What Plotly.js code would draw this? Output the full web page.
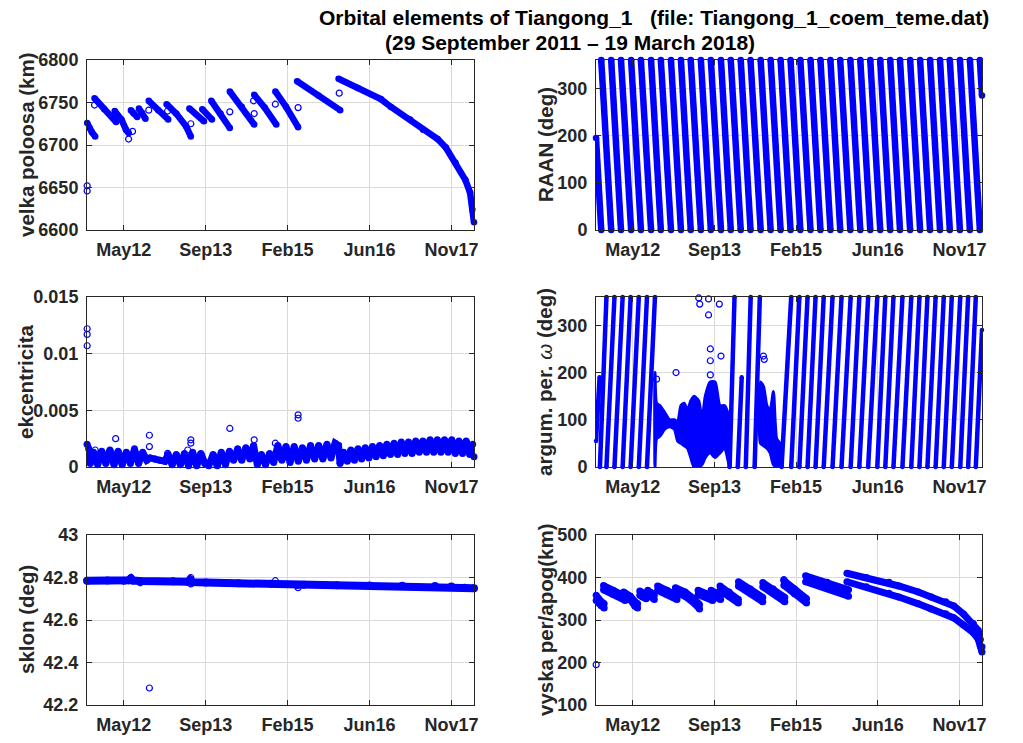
<!DOCTYPE html>
<html><head><meta charset="utf-8">
<script src="https://cdn.plot.ly/plotly-3.0.1.min.js"></script>
<style>html,body{margin:0;padding:0;background:#fff}</style>
</head><body>
<div id="chart" style="width:1023px;height:743px"></div>
<script>
// ---------- time axis (MATLAB datenum days) ----------
const tStart = 734775;   // 29 Sep 2011
const tEnd = 737138;     // 19 Mar 2018
const tickDates = [735000, 735500, 736000, 736500, 737000];
const tickLabels = ['May12', 'Sep13', 'Feb15', 'Jun16', 'Nov17'];

// ---------- semi-major axis (km) ----------
const smaT = [
 734776,734790,734805,734825,null,
 734821,734880,734953,null,
 734944,734985,735013,735030,null,
 735043,735060,735082,null,
 735092,735110,735132,null,
 735152,735210,735271,null,
 735261,735320,735380,735409,null,
 735400,735489,null,
 735479,735538,null,
 735534,735590,735647,null,
 735647,735720,735796,null,
 735796,735860,735931,null,
 735925,735990,736064,null,
 736058,736190,736321,null,
 736311,736430,736569,736629,736748,736827,736916,736966,737025,737085,737114,737128,737138];
const smaV = [
 6726,6720,6715,6710,null,
 6755,6742,6727,null,
 6740,6730,6718,6714,null,
 6741,6737,6733,null,
 6743,6738,6731,null,
 6752,6741,6730,null,
 6748,6737,6722,6710,null,
 6743,6728,null,
 6742,6730,null,
 6752,6737,6720,null,
 6763,6745,6724,null,
 6759,6744,6724,null,
 6763,6745,6721,null,
 6775,6758,6741,null,
 6778,6767,6754,6745,6730,6718,6707,6697,6679,6659,6644,6624,6609];
const smaOutT = [734776,734776,734821,735029,735053,735152,735267,735409,735647,735792,735796,735925,736064,736315];
const smaOutV = [6652,6646,6747,6707,6716,6741,6740,6725,6739,6752,6737,6748,6744,6761];

// ---------- RAAN (deg): dates where RAAN wraps 0 -> 360 ----------
const raanFirstV = 195;
const raanLastV = 285;
const raanWrapT = [734807,734868,734928,734990,735050,735112,735172,735234,735295,735355,
 735417,735478,735540,735600,735661,735721,735783,735844,735905,735966,
 736026,736088,736149,736210,736270,736332,736393,736454,736515,736576,
 736636,736698,736759,736820,736881,736941,737003,737064,737125];

// ---------- eccentricity ----------
const eccT = [734775,734785,734795,734815,734840,734865,734890,734915,734940,734965,734990,735015,735040,735065,735090,735115,735140,735160,735190,735220,735250,735270,735295,735320,735345,735370,735395,735420,735445,735470,735495,735518,735545,735570,735595,735620,735645,735670,735695,735720,735745,735770,735792,735815,735840,735865,735890,735915,735940,735965,735990,736015,736040,736065,736090,736115,736140,736165,736190,736215,736240,736265,736290,736311,
 736320,736342,736364,736386,736408,736430,736452,736474,736496,736518,736540,736562,736584,736606,736628,736650,736672,736694,736716,736738,736760,736782,736804,736826,736848,736870,736892,736914,736936,736958,736980,737002,737024,737046,737068,737090,737112,737130,737138];
const eccV = [0.0020,0.0016,0.0003,0.0013,0.0002,0.0014,0.0003,0.0015,0.0002,0.0014,0.0002,0.0013,0.0003,0.0016,0.0003,0.0013,0.0006,0.0008,0.0007,0.0006,0.0005,0.0011,0.0002,0.0011,0.0002,0.0012,0.0001,0.0013,0.0001,0.0012,0.0003,0.0001,0.0011,0.0001,0.0013,0.0002,0.0014,0.0006,0.0016,0.0006,0.0017,0.0007,0.0019,0.0002,0.0011,0.0002,0.0012,0.0004,0.0019,0.0006,0.0018,0.0004,0.0018,0.0005,0.0017,0.0006,0.0019,0.0007,0.0019,0.0007,0.0020,0.0008,0.0021,0.0019,
 0.0003,0.0013,0.0005,0.0015,0.0006,0.0016,0.0007,0.0017,0.0008,0.0018,0.0009,0.0019,0.0010,0.0020,0.0011,0.0021,0.0011,0.0022,0.0012,0.0022,0.0012,0.0023,0.0013,0.0023,0.0013,0.0024,0.0013,0.0024,0.0013,0.0024,0.0013,0.0024,0.0012,0.0023,0.0012,0.0023,0.0011,0.0020,0.0009];
const eccOutT = [734776,734776,734776,734825,734950,735156,735156,735267,735390,735409,735409,735647,735796,735925,736064,736064];
const eccOutV = [0.0122,0.0117,0.0107,0.0015,0.0025,0.0028,0.0018,0.0012,0.0015,0.0024,0.0021,0.0034,0.0024,0.0021,0.0046,0.0043];

// ---------- argument of perigee (deg) ----------
const argFirstT = [734775,734797];
const argFirstV = [55,190];
const argWrapA = [734799,734839,734888,734938,734987,735037,735087,735136];
// slowly-varying (frozen) episodes: upper / lower envelope of the point cloud
const argFrozenAT = [735136,735146,735166,735196,735226,735255,735275,735295,735315,735335,735355,735375,735404,735424,735444,735474,735504,735534,735563,735593];
const argFrozenAUp = [200,135,130,115,100,100,95,130,135,120,140,150,140,100,150,180,180,130,130,100];
const argFrozenALo = [0,60,65,80,85,80,55,50,45,40,20,0,0,5,20,30,20,30,40,0];
const argMidT = [735593,735623,null,735643,735667,null,735692,735722,null,735746,735778];
const argMidV = [0,360,null,0,190,null,0,360,null,0,360];
const argFrozenBT = [735782,735801,735821,735841,735861,735881,735901];
const argFrozenBUp = [180,170,130,120,160,60,50];
const argFrozenBLo = [50,45,40,30,5,0,0];
const argWrapB = [735911,735970,736020,736070,736119,736169,736223,736278,736334,736387,736441,736497,736546,736596,736651,736705,736755,736804,736854,736904,736953,737005,737053,737100];
const argLastV = 290;
const argOutT = [735146,735265,735404,735410,735464,735464,735475,735475,735475,735530,735540,735800,735805];
const argOutV = [186,200,358,345,356,322,250,225,195,345,235,235,228];

// ---------- inclination (deg) ----------
const incT = [734775,734900,735000,735030,735043,735055,735100,735300,735390,735405,735420,735500,735700,735900,736060,736100,736300,736500,736700,736900,737000,737080,737138];
const incV = [42.785,42.786,42.785,42.787,42.795,42.786,42.784,42.782,42.780,42.790,42.778,42.776,42.773,42.770,42.765,42.766,42.764,42.762,42.761,42.760,42.758,42.752,42.750];
const incOutT = [735156,735043,735409,735409,735925,736064,735100];
const incOutV = [42.28,42.80,42.80,42.77,42.785,42.752,42.775];

// ---------- perigee / apogee height (km), same epochs as smaT ----------
const hApo = [358,350,344,338,null, 381,370,356,null, 366,356,343,338,null, 368,364,360,null, 370,365,358,null, 380,370,358,null, 376,366,348,336,null, 370,356,null, 370,358,null, 380,366,348,null, 390,373,353,null, 388,373,353,null, 393,373,350,null, 404,389,371,null, 410,400,389,380,366,354,343,333,314,292,276,254,237];
const hPer = [346,340,334,328,null, 371,360,346,null, 356,348,333,328,null, 358,354,350,null, 360,356,348,null, 370,360,348,null, 366,356,338,326,null, 360,346,null, 360,348,null, 370,356,340,null, 380,363,343,null, 378,363,343,null, 382,362,340,null, 390,375,356,null, 390,378,363,354,338,326,315,305,288,270,256,238,225];
const hOutT = [734776,735925];
const hOutV = [195,395];

// ---------- build polylines / polygons from the read values ----------
function raanLines() {
  const x = [tStart, raanWrapT[0], null], y = [raanFirstV, 0, null];
  for (let i = 0; i < raanWrapT.length - 1; i++) {
    x.push(raanWrapT[i], raanWrapT[i + 1], null); y.push(360, 0, null);
  }
  x.push(raanWrapT[raanWrapT.length - 1], tEnd); y.push(360, raanLastV);
  return {x, y};
}
function argLines() {
  const x = [...argFirstT, null], y = [...argFirstV, null];
  for (let i = 0; i < argWrapA.length - 1; i++) { x.push(argWrapA[i], argWrapA[i + 1], null); y.push(0, 360, null); }
  x.push(...argMidT, null); y.push(...argMidV, null);
  for (let i = 0; i < argWrapB.length - 1; i++) { x.push(argWrapB[i], argWrapB[i + 1], null); y.push(0, 360, null); }
  x.push(argWrapB[argWrapB.length - 1], tEnd); y.push(0, argLastV);
  return {x, y};
}
function poly(t, up, lo) {
  return {x: [...t, ...t.slice().reverse(), t[0]], y: [...up, ...lo.slice().reverse(), up[0]]};
}

const BLUE = '#0000ff';
function band(x, y, w, ax) {
  return {x, y, xaxis: 'x' + ax, yaxis: 'y' + ax, type: 'scatter', mode: 'lines+markers', cliponaxis: false,
    line: {color: BLUE, width: w}, marker: {symbol: 'circle', size: w, color: BLUE},
    connectgaps: false, hoverinfo: 'skip', showlegend: false};
}
function area(p, ax) {
  return {x: p.x, y: p.y, xaxis: 'x' + ax, yaxis: 'y' + ax, type: 'scatter', mode: 'lines',
    fill: 'toself', fillcolor: BLUE, line: {color: BLUE, width: 3, shape: 'spline', smoothing: 0.6},
    hoverinfo: 'skip', showlegend: false};
}
function pts(x, y, ax) {
  return {x, y, xaxis: 'x' + ax, yaxis: 'y' + ax, type: 'scatter', mode: 'markers', cliponaxis: false,
    marker: {symbol: 'circle-open', size: 6, color: BLUE, line: {width: 1.2, color: BLUE}},
    hoverinfo: 'skip', showlegend: false};
}
const r = raanLines(), a = argLines();
const data = [
  band(smaT, smaV, 6.5, ''), pts(smaOutT, smaOutV, ''),
  band(r.x, r.y, 6.5, '2'),
  band(eccT, eccV, 7, '3'), pts(eccOutT, eccOutV, '3'),
  band(a.x, a.y, 4.5, '4'),
  area(poly(argFrozenAT, argFrozenAUp, argFrozenALo), '4'),
  area(poly(argFrozenBT, argFrozenBUp, argFrozenBLo), '4'),
  pts(argOutT, argOutV, '4'),
  band(incT, incV, 8, '5'), pts(incOutT, incOutV, '5'),
  band(smaT, hApo, 7, '6'), band(smaT, hPer, 7, '6'), pts(hOutT, hOutV, '6')
];

// ---------- layout ----------
const W = 1023, H = 743;
const colL = [87 / W, 474 / W], colR = [596 / W, 982 / W];
const rows = [[1 - 230 / H, 1 - 60 / H], [1 - 467 / H, 1 - 297 / H], [1 - 705 / H, 1 - 535 / H]];
const FONT = 'Liberation Sans, Arial, Helvetica, sans-serif';
const TXT = '#262626';
const GRID = '#dadada';
function xa(dom, anchor) {
  return {domain: dom, anchor, range: [tStart, tEnd], tickvals: tickDates, ticktext: tickLabels,
    ticks: 'inside', ticklen: 5, tickcolor: TXT, showline: true, linecolor: TXT, linewidth: 1, mirror: 'ticks',
    showgrid: true, gridcolor: GRID, zeroline: false, automargin: false, ticklabelstandoff: 3,
    tickfont: {family: FONT, size: 18, color: TXT, weight: 'bold'}};
}
function ya(dom, anchor, range, vals, texts) {
  return {domain: dom, anchor, range, tickvals: vals, ticktext: texts,
    ticks: 'inside', ticklen: 5, tickcolor: TXT, showline: true, linecolor: TXT, linewidth: 1, mirror: 'ticks',
    showgrid: true, gridcolor: GRID, zeroline: false, automargin: false, ticklabelstandoff: 4,
    tickfont: {family: FONT, size: 18, color: TXT, weight: 'bold'}};
}
function ytitle(text, xpx, row) {
  return {text, xref: 'paper', yref: 'paper', x: xpx / W, y: (rows[row][0] + rows[row][1]) / 2,
    xanchor: 'center', yanchor: 'middle', textangle: -90, showarrow: false,
    font: {family: FONT, size: 20.5, color: TXT}};
}
const layout = {
  width: W, height: H, margin: {l: 0, r: 0, t: 0, b: 0}, paper_bgcolor: '#fff', plot_bgcolor: '#fff',
  showlegend: false,
  xaxis: xa(colL, 'y'), yaxis: ya(rows[0], 'x', [6600, 6800], [6600, 6650, 6700, 6750, 6800], ['6600', '6650', '6700', '6750', '6800']),
  xaxis2: xa(colR, 'y2'), yaxis2: ya(rows[0], 'x2', [0, 360], [0, 100, 200, 300], ['0', '100', '200', '300']),
  xaxis3: xa(colL, 'y3'), yaxis3: ya(rows[1], 'x3', [0, 0.015], [0, 0.005, 0.01, 0.015], ['0', '0.005', '0.01', '0.015']),
  xaxis4: xa(colR, 'y4'), yaxis4: ya(rows[1], 'x4', [0, 360], [0, 100, 200, 300], ['0', '100', '200', '300']),
  xaxis5: xa(colL, 'y5'), yaxis5: ya(rows[2], 'x5', [42.2, 43], [42.2, 42.4, 42.6, 42.8, 43], ['42.2', '42.4', '42.6', '42.8', '43']),
  xaxis6: xa(colR, 'y6'), yaxis6: ya(rows[2], 'x6', [100, 500], [100, 200, 300, 400, 500], ['100', '200', '300', '400', '500']),
  annotations: [
    {text: '<b>Orbital elements of Tiangong_1\u00a0\u00a0\u00a0(file: Tiangong_1_coem_teme.dat)</b>', xref: 'paper', yref: 'paper',
     x: 654 / W, y: 1 - 18 / H, xanchor: 'center', yanchor: 'middle', showarrow: false, font: {family: FONT, size: 21, color: '#000'}},
    {text: '<b>(29 September 2011 \u2013 19 March 2018)</b>', xref: 'paper', yref: 'paper',
     x: 570 / W, y: 1 - 43 / H, xanchor: 'center', yanchor: 'middle', showarrow: false, font: {family: FONT, size: 21, color: '#000'}},
    ytitle('<b>velka poloosa (km)</b>', 26, 0),
    ytitle('<b>RAAN (deg)</b>', 545, 0),
    ytitle('<b>ekcentricita</b>', 26, 1),
    ytitle('<b>argum. per. </b><i>\u03c9</i><b> (deg)</b>', 545, 1),
    ytitle('<b>sklon (deg)</b>', 26, 2),
    ytitle('<b>vyska per/apog(km)</b>', 545, 2)
  ]
};
Plotly.newPlot('chart', data, layout, {staticPlot: true, displayModeBar: false});
</script>
</body></html>
